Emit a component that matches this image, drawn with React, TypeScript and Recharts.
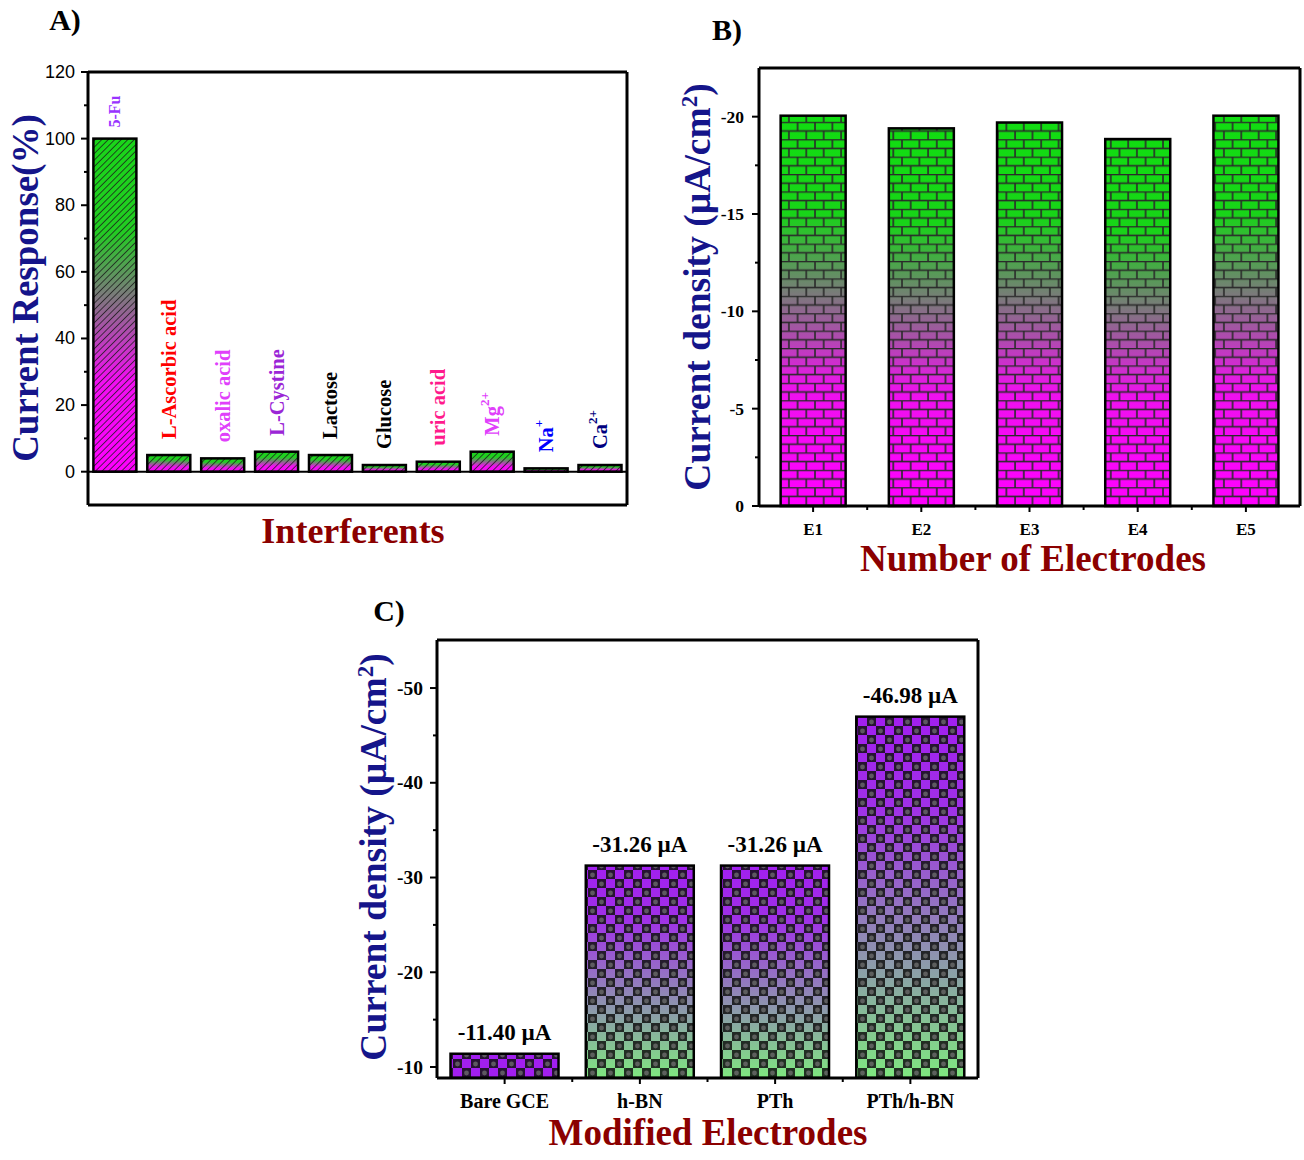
import React from "react";
import { BarChart, Bar, XAxis, YAxis, ReferenceLine, LabelList } from "recharts";

// A) selectivity
const interferents = ["5-Fu", "L-Ascorbic acid", "oxalic acid", "L-Cystine", "Lactose", "Glucose", "uric acid", "Mg", "Na", "Ca"];
const interferentCharges = ["", "", "", "", "", "", "", "2+", "+", "2+"];
const responses = [100, 5, 4, 6, 5, 2, 3, 6, 1, 2];
const responseTicks = [0, 10, 20, 30, 40, 50, 60, 70, 80, 90, 100, 110, 120];

// B) reproducibility
const electrodes = ["E1", "E2", "E3", "E4", "E5"];
const densities = [-20.05, -19.4, -19.7, -18.85, -20.05];
const densityTicks = [-20, -17.5, -15, -12.5, -10, -7.5, -5, -2.5, 0];

// C) modified electrodes
const modifiedElectrodes = ["Bare GCE", "h-BN", "PTh", "PTh/h-BN"];
const modifiedDensities = [-11.4, -31.26, -31.26, -46.98];
const modifiedTicks = [-50, -45, -40, -35, -30, -25, -20, -15, -10];

const labelColors = ["#9933ff", "#ff0000", "#e040fb", "#9b26d6", "#000000", "#000000", "#ff1a8c", "#e040fb", "#0000ff", "#000080"];
const labelSizes = [16, 20.5, 20.5, 20.5, 20.5, 20.5, 20.5, 20.5, 20.5, 20.5];

const dataA = interferents.map((name, i) => ({ name, charge: interferentCharges[i], value: responses[i] }));
const dataB = electrodes.map((name, i) => ({ name, value: densities[i] }));
const dataC = modifiedElectrodes.map((name, i) => ({ name, value: modifiedDensities[i] }));

const SERIF = "'Liberation Serif', 'Times New Roman', serif";
const NAVY = "#15158a";
const DARKRED = "#8b0000";

function box(p: any) {
  let { x, y, width, height } = p;
  if (height < 0) { y += height; height = -height; }
  if (width < 0) { x += width; width = -width; }
  return { x, y, width, height };
}

const HatchBar = (p: any) => {
  const b = box(p);
  return (
    <g>
      <rect {...b} fill="url(#gradA)" />
      <rect {...b} fill="url(#hatchA)" />
      <rect {...b} fill="none" stroke="#000" strokeWidth={2.5} />
    </g>
  );
};

const BrickBar = (p: any) => {
  const b = box(p);
  return (
    <g>
      <rect {...b} fill="url(#gradB)" />
      <rect {...b} fill="url(#brickB)" />
      <rect {...b} fill="none" stroke="#000" strokeWidth={2.5} />
    </g>
  );
};

const CheckerBar = (p: any) => {
  const b = box(p);
  return (
    <g>
      <rect {...b} fill={p.index === 0 ? "#a21ff0" : "url(#gradC)"} />
      <rect {...b} fill="url(#checkC)" />
      <rect {...b} fill="none" stroke="#000" strokeWidth={2.5} />
    </g>
  );
};

const InterferentLabel = (p: any) => {
  const b = box(p);
  const i = p.index;
  const cx = b.x + b.width / 2;
  const top = b.y - (i === 0 ? 11 : 16);
  return (
    <text
      transform={`translate(${cx},${top}) rotate(-90)`}
      fill={labelColors[i]}
      fontFamily={SERIF}
      fontWeight="bold"
      fontSize={labelSizes[i]}
      dominantBaseline="central"
    >
      {interferents[i]}
      {interferentCharges[i] && (
        <tspan dy={-8} fontSize={13}>{interferentCharges[i]}</tspan>
      )}
    </text>
  );
};

const ValueLabel = (p: any) => {
  const b = box(p);
  return (
    <text x={b.x + b.width / 2} y={b.y - 14} textAnchor="middle" fontFamily={SERIF} fontWeight="bold" fontSize={23} fill="#000">
      {`${Number(p.value).toFixed(2)} \u00b5A`}
    </text>
  );
};

const ResponseTick = (p: any) => {
  const { x, y, payload } = p;
  const major = payload.value % 20 === 0;
  return (
    <g>
      <line x1={x - (major ? 7 : 4)} x2={x} y1={y} y2={y} stroke="#000" strokeWidth={2} />
      {major && (
        <text x={x - 13} y={y} textAnchor="end" dominantBaseline="central" fontFamily="'Liberation Sans', Arial, sans-serif" fontSize={18} fill="#000">
          {payload.value}
        </text>
      )}
    </g>
  );
};

const makeValueTick = (majorStep: number, size: number, gap: number) => (p: any) => {
  const { x, y, payload } = p;
  const v = payload.value;
  const major = Math.abs(v % majorStep) < 1e-9;
  return (
    <g>
      <line x1={x - (major ? 7 : 4)} x2={x} y1={y} y2={y} stroke="#000" strokeWidth={2} />
      {major && (
        <text x={x - gap} y={y} textAnchor="end" dominantBaseline="central" fontFamily={SERIF} fontWeight="bold" fontSize={size} fill="#000">
          {v === 0 ? "0" : String(v)}
        </text>
      )}
    </g>
  );
};

const makeCategoryTick = (step: number, count: number, size: number, dy: number) => (p: any) => {
  const { x, y, payload, index } = p;
  return (
    <g>
      <line x1={x} x2={x} y1={y} y2={y + 6} stroke="#000" strokeWidth={2} />
      {index < count - 1 && <line x1={x + step / 2} x2={x + step / 2} y1={y} y2={y + 4} stroke="#000" strokeWidth={2} />}
      <text x={x} y={y + dy} textAnchor="middle" fontFamily={SERIF} fontWeight="bold" fontSize={size} fill="#000">
        {payload.value}
      </text>
    </g>
  );
};

const frame = { stroke: "#000", strokeWidth: 3 };

const Text = ({ x, y, size, color, rotate, children }: any) => (
  <div
    style={{
      position: "absolute",
      left: x,
      top: y,
      transform: `translate(-50%, -50%)${rotate ? " rotate(-90deg)" : ""}`,
      fontFamily: SERIF,
      fontWeight: "bold",
      fontSize: size,
      color,
      whiteSpace: "nowrap",
      lineHeight: 1,
    }}
  >
    {children}
  </div>
);

const PLOT_W = 541;

export default function App() {
  return (
    <div style={{ position: "absolute", left: 0, top: 0, width: 1304, height: 1160, background: "#fff" }}>
      {/* A */}
      <div style={{ position: "absolute", left: 0, top: 0 }}>
        <BarChart width={640} height={520} data={dataA} margin={{ top: 71, right: 12, bottom: 10, left: 28 }} barCategoryGap="10%">
          <defs>
            <linearGradient id="gradA" x1="0" y1="0" x2="0" y2="1">
              <stop offset="0%" stopColor="#19d619" />
              <stop offset="28%" stopColor="#22cc22" />
              <stop offset="72%" stopColor="#f010f0" />
              <stop offset="100%" stopColor="#ff00ff" />
            </linearGradient>
            <pattern id="hatchA" width="4.6" height="4.6" patternUnits="userSpaceOnUse" patternTransform="rotate(45)">
              <line x1="0" y1="0" x2="0" y2="4.6" stroke="#1a1a1a" strokeWidth={1.5} />
            </pattern>
          </defs>
          <XAxis dataKey="name" height={5} tick={false} tickLine={false} axisLine={frame} />
          <XAxis xAxisId="top" orientation="top" dataKey="name" height={1} tick={false} tickLine={false} axisLine={frame} />
          <YAxis
            width={60}
            domain={[-10, 120]}
            ticks={responseTicks}
            interval={0}
            tickSize={0}
            tickMargin={0}
            tickLine={false}
            axisLine={frame}
            tick={<ResponseTick />}
          />
          <YAxis yAxisId="right" orientation="right" width={1} domain={[0, 1]} tick={false} tickLine={false} axisLine={frame} />
          <ReferenceLine y={0} stroke="#000" strokeWidth={2} />
          <Bar dataKey="value" shape={<HatchBar />} isAnimationActive={false}>
            <LabelList dataKey="value" content={<InterferentLabel />} />
          </Bar>
        </BarChart>
      </div>

      {/* B */}
      <div style={{ position: "absolute", left: 640, top: 0 }}>
        <BarChart width={664} height={600} data={dataB} margin={{ top: 67, right: 3, bottom: 64, left: 69 }} barCategoryGap="20%">
          <defs>
            <linearGradient id="gradB" x1="0" y1="0" x2="0" y2="1">
              <stop offset="0%" stopColor="#11dd11" />
              <stop offset="25%" stopColor="#18d418" />
              <stop offset="70%" stopColor="#ee11ee" />
              <stop offset="100%" stopColor="#ff00ff" />
            </linearGradient>
            <pattern id="brickB" width="17.4" height="17.4" patternUnits="userSpaceOnUse">
              <line x1="0" y1="0.5" x2="17.4" y2="0.5" stroke="#2a2a2a" strokeWidth={1.6} />
              <line x1="0" y1="9.2" x2="17.4" y2="9.2" stroke="#2a2a2a" strokeWidth={1.6} />
              <line x1="1" y1="0" x2="1" y2="8.7" stroke="#2a2a2a" strokeWidth={1.6} />
              <line x1="9.7" y1="8.7" x2="9.7" y2="17.4" stroke="#2a2a2a" strokeWidth={1.6} />
            </pattern>
          </defs>
          <XAxis
            dataKey="name"
            height={30}
            interval={0}
            tickSize={0}
            tickMargin={0}
            tickLine={false}
            axisLine={frame}
            tick={makeCategoryTick(PLOT_W / electrodes.length, electrodes.length, 17, 29)}
          />
          <XAxis xAxisId="top" orientation="top" dataKey="name" height={1} tick={false} tickLine={false} axisLine={frame} />
          <YAxis
            width={50}
            domain={[-22.5, 0]}
            reversed
            ticks={densityTicks}
            interval={0}
            tickSize={0}
            tickMargin={0}
            tickLine={false}
            axisLine={frame}
            tick={makeValueTick(5, 17.5, 15)}
          />
          <YAxis yAxisId="right" orientation="right" width={1} domain={[0, 1]} tick={false} tickLine={false} axisLine={frame} />
          <Bar dataKey="value" shape={<BrickBar />} isAnimationActive={false} />
        </BarChart>
      </div>

      {/* C */}
      <div style={{ position: "absolute", left: 300, top: 600 }}>
        <BarChart width={700} height={520} data={dataC} margin={{ top: 39, right: 21, bottom: 12, left: 77 }} barCategoryGap="10%">
          <defs>
            <linearGradient id="gradC" x1="0" y1="0" x2="0" y2="1">
              <stop offset="0%" stopColor="#a21ff0" />
              <stop offset="25%" stopColor="#a030e8" />
              <stop offset="100%" stopColor="#7fe87f" />
            </linearGradient>
            <pattern id="checkC" width="18" height="18" patternUnits="userSpaceOnUse">
              <rect x="0" y="0" width="9" height="9" fill="#111" fillOpacity={0.85} />
              <rect x="9" y="9" width="9" height="9" fill="#111" fillOpacity={0.85} />
              <circle cx="4.5" cy="5" r="2.4" fill="#777" fillOpacity={0.7} />
              <circle cx="13.5" cy="14" r="2.4" fill="#777" fillOpacity={0.7} />
            </pattern>
          </defs>
          <XAxis
            dataKey="name"
            height={30}
            interval={0}
            tickSize={0}
            tickMargin={0}
            tickLine={false}
            axisLine={frame}
            tick={makeCategoryTick(PLOT_W / modifiedElectrodes.length, modifiedElectrodes.length, 20, 30)}
          />
          <XAxis xAxisId="top" orientation="top" dataKey="name" height={1} tick={false} tickLine={false} axisLine={frame} />
          <YAxis
            width={60}
            domain={[-55.07, -8.84]}
            reversed
            allowDataOverflow
            ticks={modifiedTicks}
            interval={0}
            tickSize={0}
            tickMargin={0}
            tickLine={false}
            axisLine={frame}
            tick={makeValueTick(10, 19.5, 14)}
          />
          <YAxis yAxisId="right" orientation="right" width={1} domain={[0, 1]} tick={false} tickLine={false} axisLine={frame} />
          <Bar dataKey="value" shape={<CheckerBar />} isAnimationActive={false}>
            <LabelList dataKey="value" content={<ValueLabel />} />
          </Bar>
        </BarChart>
      </div>

      <Text x={65} y={20} size={30} color="#000">A)</Text>
      <Text x={727} y={30} size={30} color="#000">B)</Text>
      <Text x={389} y={611} size={30} color="#000">C)</Text>

      <Text x={25} y={288} size={37} color={NAVY} rotate>Current Response(%)</Text>
      <Text x={353} y={531} size={36} color={DARKRED}>Interferents</Text>

      <Text x={697} y={287} size={37.5} color={NAVY} rotate>
        Current density (µA/cm<sup style={{ fontSize: 23, verticalAlign: "super" }}>2</sup>)
      </Text>
      <Text x={1033} y={558} size={37} color={DARKRED}>Number of Electrodes</Text>

      <Text x={373} y={857} size={37.5} color={NAVY} rotate>
        Current density (µA/cm<sup style={{ fontSize: 23, verticalAlign: "super" }}>2</sup>)
      </Text>
      <Text x={708} y={1132} size={37} color={DARKRED}>Modified Electrodes</Text>
    </div>
  );
}
